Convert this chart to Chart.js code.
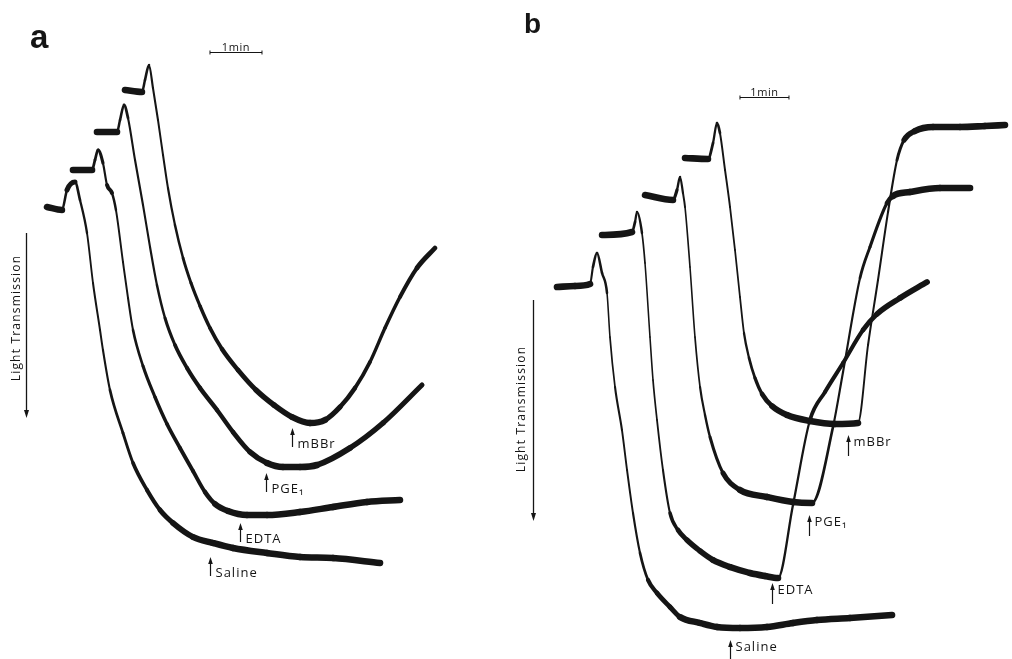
<!DOCTYPE html>
<html>
<head>
<meta charset="utf-8">
<script src="https://cdn.jsdelivr.net/npm/chart.js@4.4.1/dist/chart.umd.min.js"></script>
<style>
html,body{margin:0;padding:0;background:#fff;}
#wrap{position:relative;width:1012px;height:659px;overflow:hidden;background:#fff;}
canvas{position:absolute;top:0;}
</style>
</head>
<body>
<div id="wrap">
<canvas id="ca" width="506" height="659" style="left:0"></canvas>
<canvas id="cb" width="506" height="659" style="left:506px"></canvas>
</div>
<script>
// ---------- DATA (time in s, light-transmission deflection in arbitrary units; larger = more transmission, drawn downward) ----------
// Panel a
const aSalineTime  = [54.2, 71.5, 77.3, 86.5, 92.3, 100.4, 107.3, 115.4, 118.8, 126.9, 141.9, 153.5, 169.6, 184.6, 199.6, 222.7, 245.8, 268.8, 308.1, 346.2, 384.2, 438.5];
const aSalineTrans = [41.4, 42, 38, 36.4, 40, 46.6, 56.6, 66, 70, 78, 86.6, 92.6, 98, 102, 104.6, 107.4, 108.6, 109.6, 110.6, 111.4, 111.6, 112.6];

const aEdtaTime  = [84.2, 106.2, 109.6, 113.1, 118.8, 123.5, 129.2, 133.8, 141.9, 147.7, 153.5, 165, 178.8, 192.7, 207.7, 222.7, 236.5, 248.1, 263.1, 285, 308.1, 346.2, 384.2, 423.4, 461.5];
const aEdtaTrans = [34, 34, 32, 30, 32.6, 37, 38.6, 42, 52.4, 59.6, 66, 73.2, 79.4, 84.8, 89.6, 94.2, 98.4, 100.8, 102.2, 103, 103, 102.4, 101.4, 100.4, 100];

const aPgeTime  = [111.9, 135, 138.5, 143.1, 147.7, 155.8, 165, 173.1, 181.1, 190.4, 201.9, 215.8, 230.8, 250.4, 268.8, 288.5, 308.1, 326.5, 346.2, 365.8, 403.8, 441.9, 486.9];
const aPgeTrans = [26.4, 26.4, 24, 21, 23.6, 32, 41, 49.4, 57, 63.6, 69, 73.6, 77.6, 82, 86.4, 90.4, 92.6, 93.4, 93.4, 93, 89.6, 84.6, 77];

const aMbbrTime  = [144.2, 163.8, 167.3, 171.9, 176.5, 182.3, 188.1, 193.8, 201.9, 211.2, 220.4, 230.8, 242.3, 256.1, 274.6, 295.4, 316.1, 336.9, 357.7, 375, 392.3, 409.6, 426.9, 444.2, 461.5, 481.1, 501.9];
const aMbbrTrans = [18, 18.4, 16, 13, 17.6, 24, 31, 37.6, 45, 51.6, 56.6, 61.2, 65.6, 69.8, 74, 78, 81, 83.4, 84.6, 84, 81.4, 77.6, 72.4, 65.6, 59.4, 53.6, 49.6];

const aMarkerLabels = ['Saline', 'EDTA', 'PGE\u2081', 'mBBr'];
const aMarkerTimes  = [242.3, 276.9, 306.9, 336.9];
const aMarkerLevels = [111.4, 104.6, 94.6, 85.6];
const aScaleBarStart = 242.3, aScaleBarLevel = 10.4;

// Panel b
const bSalineTime  = [62.4, 84.5, 102.9, 106.5, 111.4, 117.6, 123.7, 127.3, 133.5, 142, 148.2, 155.5, 164.1, 173.9, 184.9, 200.8, 213.1, 237.6, 258.4, 286.5, 319.6, 351.4, 380.8, 421.2, 472.7];
const bSalineTrans = [57.4, 57.2, 56.8, 53.4, 50.6, 54.6, 58.6, 67.4, 77.4, 86, 94, 102.6, 110.6, 116, 118.6, 121.4, 123.4, 124.6, 125.4, 125.6, 125.4, 124.6, 124, 123.6, 123];

const bEdtaTime  = [117.6, 154.3, 158, 160.4, 166.5, 170.2, 176.3, 180, 184.9, 192.2, 200.8, 210.6, 221.6, 237.6, 253.5, 274.3, 298.8, 317.1, 333.1, 351.4, 372.2, 390.6, 412.7, 437.1, 454.3, 482.5, 515.5];
const bEdtaTrans = [47, 46.4, 44.4, 42.4, 46.6, 52.6, 67.4, 76, 84, 94, 102.6, 106, 108, 110.2, 112, 113.4, 114.6, 115.2, 115.6, 101, 84, 78.4, 72.6, 66, 62.8, 59.6, 56.4];

const bPgeTime  = [170.2, 204.5, 209.4, 213.1, 216.7, 219.2, 225.3, 231.4, 237.6, 243.7, 249.8, 265.7, 286.5, 319.6, 351.4, 374.7, 400.4, 412.7, 433.5, 445.7, 466.5, 473.9, 494.7, 531.4, 568.2];
const bPgeTrans = [39, 40, 38, 35.4, 38.6, 41.4, 53.4, 67.4, 77.4, 83, 87.4, 94.6, 98, 99.4, 100.4, 100.6, 85.4, 74.4, 55.6, 49.4, 40.6, 39.2, 38.4, 37.6, 37.6];

const bMbbrTime  = [219.2, 247.3, 253.5, 258.4, 262, 268.2, 274.3, 280.4, 286.5, 291.4, 297.6, 304.9, 313.5, 325.7, 344.1, 372.3, 402.9, 431, 443.3, 455.5, 467.8, 478.8, 487.4, 500.8, 522.9, 555.9, 586.5, 611];
const bMbbrTrans = [31.6, 31.8, 28.6, 24.6, 26.6, 34, 41.4, 50, 59.4, 66.6, 71.6, 75.6, 78.8, 81.2, 83, 84.2, 84.8, 84.6, 69, 56, 42.4, 32, 28, 26.2, 25.4, 25.4, 25.2, 25];

const bMarkerLabels = ['Saline', 'EDTA', 'PGE\u2081', 'mBBr'];
const bMarkerTimes  = [274.3, 325.7, 371, 418.8];
const bMarkerLevels = [128, 116.6, 103, 87];
const bScaleBarStart = 286.5, bScaleBarLevel = 19.4;

const scaleBarSeconds = 60;
const scaleBarLabel = '1min';
const axisLabel = 'Light Transmission';

// ---------- RENDERING ----------
const INK = '#151515';
const LABEL_FONT = '"Open Sans", "DejaVu Sans", sans-serif';

function toPoints(t, v) { return t.map((x, i) => ({ x: x, y: v[i] })); }

function traceDataset(label, t, v) {
  return {
    label: label,
    data: toPoints(t, v),
    borderColor: INK,
    backgroundColor: INK,
    borderWidth: 2,
    pointRadius: 0,
    fill: false,
    cubicInterpolationMode: 'monotone',
    borderCapStyle: 'round',
    borderJoinStyle: 'round',
    segment: {
      // recorder noise is vertical, so flat stretches look thick and steep ones thin
      borderWidth: ctx => {
        const dx = ctx.p1.x - ctx.p0.x, dy = ctx.p1.y - ctx.p0.y;
        const h = Math.hypot(dx, dy) || 1;
        return 1.2 + 5.4 * Math.abs(dx) / h;
      }
    }
  };
}

function makeDecor(cfg) {
  return {
    id: 'decor',
    afterDatasetsDraw(chart) {
      const ctx = chart.ctx, xs = chart.scales.x, ys = chart.scales.y;
      ctx.save();
      ctx.fillStyle = INK; ctx.strokeStyle = INK;

      // panel letter
      ctx.font = 'bold ' + cfg.letterSize + 'px "Liberation Sans", Arial, sans-serif';
      ctx.textAlign = 'left'; ctx.textBaseline = 'alphabetic';
      ctx.fillText(cfg.letter, cfg.letterX, cfg.letterY);

      // time scale bar
      const x0 = xs.getPixelForValue(cfg.barStart);
      const x1 = xs.getPixelForValue(cfg.barStart + scaleBarSeconds);
      const yb = Math.round(ys.getPixelForValue(cfg.barLevel)) + 0.5;
      ctx.lineWidth = 1;
      ctx.beginPath();
      ctx.moveTo(x0, yb); ctx.lineTo(x1, yb);
      ctx.moveTo(x0, yb - 2); ctx.lineTo(x0, yb + 2);
      ctx.moveTo(x1, yb - 2); ctx.lineTo(x1, yb + 2);
      ctx.stroke();
      ctx.font = '11px ' + LABEL_FONT;
      ctx.letterSpacing = '0.6px';
      ctx.textAlign = 'center'; ctx.textBaseline = 'alphabetic';
      ctx.fillText(scaleBarLabel, (x0 + x1) / 2, yb - 2);

      // light transmission axis arrow
      ctx.lineWidth = 1.3;
      ctx.beginPath();
      ctx.moveTo(cfg.axisX, cfg.axisTop); ctx.lineTo(cfg.axisX, cfg.axisBottom - 4);
      ctx.stroke();
      ctx.beginPath();
      ctx.moveTo(cfg.axisX - 2.5, cfg.axisBottom - 8);
      ctx.lineTo(cfg.axisX + 2.5, cfg.axisBottom - 8);
      ctx.lineTo(cfg.axisX, cfg.axisBottom);
      ctx.closePath(); ctx.fill();
      ctx.save();
      ctx.translate(cfg.axisTextX, cfg.axisTextY);
      ctx.rotate(-Math.PI / 2);
      ctx.font = '12px ' + LABEL_FONT;
      ctx.letterSpacing = '1.2px';
      ctx.textAlign = 'center'; ctx.textBaseline = 'middle';
      ctx.fillText(axisLabel, 0, 0);
      ctx.restore();

      // addition markers
      ctx.font = '13px ' + LABEL_FONT;
      ctx.letterSpacing = '1px';
      ctx.textAlign = 'left'; ctx.textBaseline = 'alphabetic';
      cfg.labels.forEach((lab, i) => {
        const px = Math.round(xs.getPixelForValue(cfg.times[i])) + 0.5;
        const py = ys.getPixelForValue(cfg.levels[i]);
        ctx.lineWidth = 1.2;
        ctx.beginPath();
        ctx.moveTo(px, py + 5); ctx.lineTo(px, py + cfg.arrowLen);
        ctx.stroke();
        ctx.beginPath();
        ctx.moveTo(px, py);
        ctx.lineTo(px - 2.3, py + 7);
        ctx.lineTo(px + 2.3, py + 7);
        ctx.closePath(); ctx.fill();
        ctx.fillText(lab, px + 5, py + cfg.textDrop);
      });
      ctx.restore();
    }
  };
}

function buildPanel(canvasId, datasets, xMax, cfg) {
  return new Chart(document.getElementById(canvasId), {
    type: 'line',
    data: { datasets: datasets },
    options: {
      responsive: false,
      animation: false,
      devicePixelRatio: 1,
      events: [],
      layout: { padding: 0 },
      scales: {
        x: { type: 'linear', min: 0, max: xMax, display: false },
        y: { type: 'linear', min: 0, max: 131.8, reverse: true, display: false }
      },
      plugins: { legend: { display: false }, tooltip: { enabled: false }, title: { display: false } }
    },
    plugins: [makeDecor(cfg)]
  });
}

buildPanel('ca', [
  traceDataset('Saline', aSalineTime, aSalineTrans),
  traceDataset('EDTA', aEdtaTime, aEdtaTrans),
  traceDataset('PGE1', aPgeTime, aPgeTrans),
  traceDataset('mBBr', aMbbrTime, aMbbrTrans)
], 506 * 60 / 52, {
  letter: 'a', letterSize: 33, letterX: 30, letterY: 48,
  barStart: aScaleBarStart, barLevel: aScaleBarLevel,
  axisX: 26.5, axisTop: 233, axisBottom: 418, axisTextX: 17, axisTextY: 318,
  labels: aMarkerLabels, times: aMarkerTimes, levels: aMarkerLevels,
  arrowLen: 19, textDrop: 20
});

buildPanel('cb', [
  traceDataset('Saline', bSalineTime, bSalineTrans),
  traceDataset('EDTA', bEdtaTime, bEdtaTrans),
  traceDataset('PGE1', bPgeTime, bPgeTrans),
  traceDataset('mBBr', bMbbrTime, bMbbrTrans)
], 506 * 60 / 49, {
  letter: 'b', letterSize: 28, letterX: 18, letterY: 33,
  barStart: bScaleBarStart, barLevel: bScaleBarLevel,
  axisX: 27.5, axisTop: 300, axisBottom: 521, axisTextX: 16, axisTextY: 409,
  labels: bMarkerLabels, times: bMarkerTimes, levels: bMarkerLevels,
  arrowLen: 21, textDrop: 11
});
</script>
</body>
</html>
